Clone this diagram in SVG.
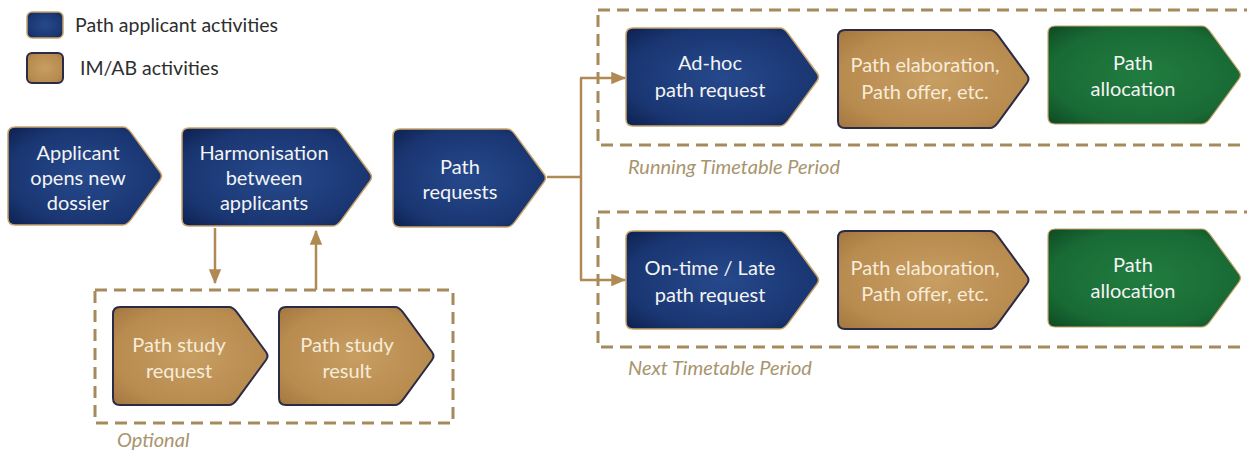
<svg xmlns="http://www.w3.org/2000/svg" width="1247" height="453" viewBox="0 0 1247 453">
<defs>
<radialGradient id="gBlue" cx="0.5" cy="0.5" r="0.7">
<stop offset="0" stop-color="#26498c"/><stop offset="0.7" stop-color="#1a3672"/><stop offset="1" stop-color="#0d2150"/>
</radialGradient>
<radialGradient id="gGold" cx="0.5" cy="0.5" r="0.7">
<stop offset="0" stop-color="#c89e62"/><stop offset="0.7" stop-color="#b88b4f"/><stop offset="1" stop-color="#a2773f"/>
</radialGradient>
<radialGradient id="gGreen" cx="0.5" cy="0.5" r="0.7">
<stop offset="0" stop-color="#217d40"/><stop offset="0.7" stop-color="#196a35"/><stop offset="1" stop-color="#0e4a24"/>
</radialGradient>
<marker id="arr" viewBox="0 0 12 10" refX="11" refY="5" markerWidth="6" markerHeight="5" orient="auto-start-reverse" markerUnits="strokeWidth">
<path d="M0,0 L12,5 L0,10 z" fill="#b08a55"/>
</marker>
<style>
.blue{fill:url(#gBlue);stroke:#c9a46a;stroke-width:1.5}
.gold{fill:url(#gGold);stroke:#2b2b45;stroke-width:2}
.green{fill:url(#gGreen);stroke:#c9a46a;stroke-width:1.2}
.t{font-family:Lato,"Liberation Sans",sans-serif;font-size:20px;fill:#f4f4f4;text-anchor:middle}
.tg{font-family:Lato,"Liberation Sans",sans-serif;font-size:20px;fill:#f7ecd9;text-anchor:middle}
.lab{font-family:Lato,"Liberation Sans",sans-serif;font-size:20px;font-style:italic;fill:#a8946e}
.leg{font-family:Lato,"Liberation Sans",sans-serif;font-size:19.5px;fill:#2e2e2e}
.dash{fill:none;stroke:#a58a5c;stroke-width:3;stroke-dasharray:12 7}
.con{fill:none;stroke:#b08a55;stroke-width:2.5}
</style>
</defs>
<rect width="1247" height="453" fill="#ffffff"/>

<g id="legend">
<rect x="27" y="12" width="36" height="26" rx="5" class="blue"/>
<text x="75" y="32" class="leg">Path applicant activities</text>
<rect x="27" y="53" width="36" height="30" rx="5" class="gold"/>
<text x="80" y="75" class="leg">IM/AB activities</text>
</g>

<g id="groups">
<rect x="598" y="10" width="700" height="135" class="dash"/>
<text x="628" y="174" class="lab">Running Timetable Period</text>
<rect x="598" y="212" width="700" height="135" class="dash"/>
<text x="628" y="375" class="lab">Next Timetable Period</text>
<rect x="95" y="290" width="358" height="133" class="dash"/>
<text x="117" y="447" class="lab">Optional</text>
</g>

<g id="connectors">
<path d="M547,177 H581" class="con"/>
<path d="M581,78 V280" class="con"/>
<path d="M580,78 H625" class="con" marker-end="url(#arr)"/>
<path d="M580,280 H625" class="con" marker-end="url(#arr)"/>
<path d="M215,228 V283" class="con" marker-end="url(#arr)"/>
<path d="M316,290 V231" class="con" marker-end="url(#arr)"/>
</g>

<g id="n-applicant" transform="translate(8,127)">
<path class="blue" d="M7,0 h108 q4,0 8,5.4 l29,39.6 q3,4 0,8 l-29,39.6 q-4,5.4 -8,5.4 h-108 q-7,0 -7,-7 v-84 q0,-7 7,-7 z"/>
<text class="t" x="70" y="33">Applicant</text>
<text class="t" x="70" y="58">opens new</text>
<text class="t" x="70" y="83">dossier</text>
</g>

<g id="n-harmonisation" transform="translate(182,128)">
<path class="blue" d="M7,0 h144 q4,0 8,5.4 l29,39.6 q3,4 0,8 l-29,39.6 q-4,5.4 -8,5.4 h-144 q-7,0 -7,-7 v-84 q0,-7 7,-7 z"/>
<text class="t" x="82" y="32">Harmonisation</text>
<text class="t" x="82" y="57">between</text>
<text class="t" x="82" y="82">applicants</text>
</g>

<g id="n-pathrequests" transform="translate(393,129)">
<path class="blue" d="M7,0 h107 q4,0 8,5.4 l29,39.6 q3,4 0,8 l-29,39.6 q-4,5.4 -8,5.4 h-107 q-7,0 -7,-7 v-84 q0,-7 7,-7 z"/>
<text class="t" x="67" y="45">Path</text>
<text class="t" x="67" y="70">requests</text>
</g>

<g id="n-adhoc" transform="translate(626,28)">
<path class="blue" d="M7,0 h147 q4,0 8,5.4 l29,39.6 q3,4 0,8 l-29,39.6 q-4,5.4 -8,5.4 h-147 q-7,0 -7,-7 v-84 q0,-7 7,-7 z"/>
<text class="t" x="84" y="42">Ad-hoc</text>
<text class="t" x="84" y="69">path request</text>
</g>

<g id="n-elab1" transform="translate(838,30)">
<path class="gold" d="M7,0 h145 q4,0 8,5.4 l29,39.6 q3,4 0,8 l-29,39.6 q-4,5.4 -8,5.4 h-145 q-7,0 -7,-7 v-84 q0,-7 7,-7 z"/>
<text class="tg" x="87" y="42">Path elaboration,</text>
<text class="tg" x="87" y="69">Path offer, etc.</text>
</g>

<g id="n-alloc1" transform="translate(1048,26)">
<path class="green" d="M7,0 h147 q4,0 8,5.4 l29,39.6 q3,4 0,8 l-29,39.6 q-4,5.4 -8,5.4 h-147 q-7,0 -7,-7 v-84 q0,-7 7,-7 z"/>
<text class="t" x="85" y="44">Path</text>
<text class="t" x="85" y="70">allocation</text>
</g>

<g id="n-ontime" transform="translate(626,231)">
<path class="blue" d="M7,0 h147 q4,0 8,5.4 l29,39.6 q3,4 0,8 l-29,39.6 q-4,5.4 -8,5.4 h-147 q-7,0 -7,-7 v-84 q0,-7 7,-7 z"/>
<text class="t" x="84" y="44">On-time / Late</text>
<text class="t" x="84" y="71">path request</text>
</g>

<g id="n-elab2" transform="translate(838,231)">
<path class="gold" d="M7,0 h145 q4,0 8,5.4 l29,39.6 q3,4 0,8 l-29,39.6 q-4,5.4 -8,5.4 h-145 q-7,0 -7,-7 v-84 q0,-7 7,-7 z"/>
<text class="tg" x="87" y="44">Path elaboration,</text>
<text class="tg" x="87" y="70">Path offer, etc.</text>
</g>

<g id="n-alloc2" transform="translate(1048,229)">
<path class="green" d="M7,0 h147 q4,0 8,5.4 l29,39.6 q3,4 0,8 l-29,39.6 q-4,5.4 -8,5.4 h-147 q-7,0 -7,-7 v-84 q0,-7 7,-7 z"/>
<text class="t" x="85" y="43">Path</text>
<text class="t" x="85" y="69">allocation</text>
</g>

<g id="n-studyreq" transform="translate(113,307)">
<path class="gold" d="M7,0 h109 q4,0 8,5.4 l29,39.6 q3,4 0,8 l-29,39.6 q-4,5.4 -8,5.4 h-109 q-7,0 -7,-7 v-84 q0,-7 7,-7 z"/>
<text class="tg" x="66" y="45">Path study</text>
<text class="tg" x="66" y="71">request</text>
</g>

<g id="n-studyres" transform="translate(279,307)">
<path class="gold" d="M7,0 h109 q4,0 8,5.4 l29,39.6 q3,4 0,8 l-29,39.6 q-4,5.4 -8,5.4 h-109 q-7,0 -7,-7 v-84 q0,-7 7,-7 z"/>
<text class="tg" x="68" y="45">Path study</text>
<text class="tg" x="68" y="71">result</text>
</g>
</svg>
